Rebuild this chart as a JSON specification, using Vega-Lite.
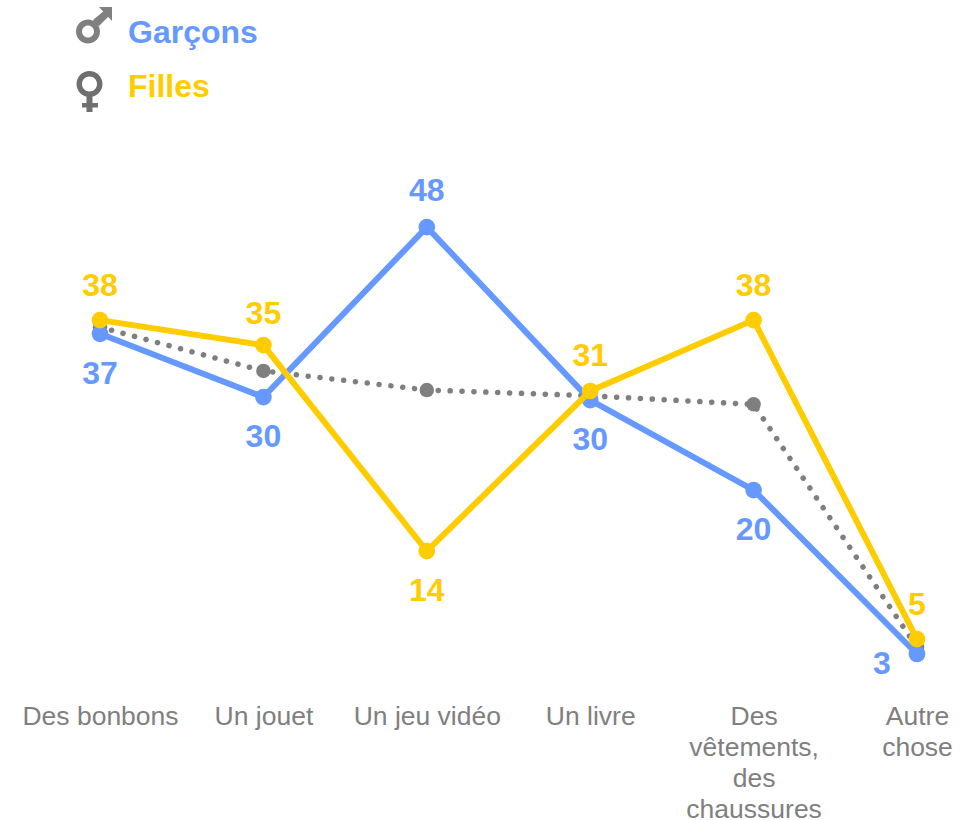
{
"$schema":"https://vega.github.io/schema/vega-lite/v6.json",
"width":978,"height":684.5,"autosize":"none","padding":{"left":0,"top":0,"right":0,"bottom":135.5},
"background":"white","config":{"view":{"stroke":null},"font":"Liberation Sans"},
"datasets":{
"series":[
{"cat":"Des bonbons","serie":"Garçons","value":36.8,"label":37},
{"cat":"Un jouet","serie":"Garçons","value":30.16,"label":30},
{"cat":"Un jeu vidéo","serie":"Garçons","value":48,"label":48},
{"cat":"Un livre","serie":"Garçons","value":29.85,"label":30},
{"cat":"Des vêtements, des chaussures","serie":"Garçons","value":20.4,"label":20},
{"cat":"Autre chose","serie":"Garçons","value":3.2,"label":3},
{"cat":"Des bonbons","serie":"Filles","value":38.24,"label":38},
{"cat":"Un jouet","serie":"Filles","value":35.62,"label":35},
{"cat":"Un jeu vidéo","serie":"Filles","value":14,"label":14},
{"cat":"Un livre","serie":"Filles","value":30.8,"label":31},
{"cat":"Des vêtements, des chaussures","serie":"Filles","value":38.24,"label":38},
{"cat":"Autre chose","serie":"Filles","value":4.77,"label":5}
],
"moyenne":[
{"cat":"Des bonbons","value":37.5},
{"cat":"Un jouet","value":32.9},
{"cat":"Un jeu vidéo","value":30.9},
{"cat":"Un livre","value":30.3},
{"cat":"Des vêtements, des chaussures","value":29.4},
{"cat":"Autre chose","value":3.9}
],
"legende":[
{"cat":"Des bonbons","serie":"Garçons","value":68.46},
{"cat":"Des bonbons","serie":"Filles","value":62.8}
]
},
"data":{"name":"series"},
"encoding":{
"x":{"field":"cat","type":"nominal","sort":null,"title":null,
"scale":{"type":"point","padding":0,"domain":["Des bonbons","Un jouet","Un jeu vidéo","Un livre","Des vêtements, des chaussures","Autre chose"],"range":[100,917]},
"axis":{"domain":false,"ticks":false,"grid":false,"labelAngle":0,"labelFontSize":26.5,"labelColor":"#7f7f7f","labelFont":"Liberation Sans","labelPadding":19,"labelLimit":0,"labelOverlap":false,"labelBound":false,"labelFlush":false,"labelLineHeight":31,"labelBaseline":"top",
"labelExpr":"datum.label=='Des vêtements, des chaussures'?['Des','vêtements,','des','chaussures']:datum.label=='Autre chose'?['Autre','chose']:datum.label"}},
"y":{"field":"value","type":"quantitative","title":null,"scale":{"domain":[0,71.83],"nice":false,"zero":false},"axis":null},
"color":{"field":"serie","type":"nominal","legend":null,"scale":{"domain":["Garçons","Filles"],"range":["#6699ff","#ffcc00"]}}
},
"layer":[
{"data":{"name":"moyenne"},"mark":{"type":"line","color":"#7f7f7f","strokeWidth":5.5,"strokeDash":[0.1,11.8],"strokeCap":"round"},"encoding":{"color":{"value":"#7f7f7f"}}},
{"data":{"name":"moyenne"},"mark":{"type":"point","filled":true,"size":210,"opacity":1,"color":"#7f7f7f"},"encoding":{"color":{"value":"#7f7f7f"}}},
{"transform":[{"filter":"datum.serie=='Garçons'"}],"mark":{"type":"line","strokeWidth":6}},
{"transform":[{"filter":"datum.serie=='Garçons'"}],"mark":{"type":"point","filled":true,"size":280,"opacity":1}},
{"transform":[{"filter":"datum.serie=='Filles'"}],"mark":{"type":"line","strokeWidth":6}},
{"transform":[{"filter":"datum.serie=='Filles'"}],"mark":{"type":"point","filled":true,"size":280,"opacity":1}},
{"transform":[{"filter":"datum.serie=='Filles'&&datum.cat!='Un jeu vidéo'&&datum.cat!='Un jouet'"}],
"mark":{"type":"text","fontSize":32,"fontWeight":"bold","font":"Liberation Sans","dy":-34.5,"baseline":"middle"},"encoding":{"text":{"field":"label","type":"quantitative"}}},
{"transform":[{"filter":"datum.serie=='Filles'&&datum.cat=='Un jouet'"}],
"mark":{"type":"text","fontSize":32,"fontWeight":"bold","font":"Liberation Sans","dy":-31,"baseline":"middle"},"encoding":{"text":{"field":"label","type":"quantitative"}}},
{"transform":[{"filter":"datum.serie=='Garçons'&&datum.cat=='Un jeu vidéo'"}],
"mark":{"type":"text","fontSize":32,"fontWeight":"bold","font":"Liberation Sans","dy":-36.5,"baseline":"middle"},"encoding":{"text":{"field":"label","type":"quantitative"}}},
{"transform":[{"filter":"(datum.serie=='Filles'&&datum.cat=='Un jeu vidéo')||(datum.serie=='Garçons'&&datum.cat!='Un jeu vidéo'&&datum.cat!='Autre chose')"}],
"mark":{"type":"text","fontSize":32,"fontWeight":"bold","font":"Liberation Sans","dy":39.7,"baseline":"middle"},"encoding":{"text":{"field":"label","type":"quantitative"}}},
{"transform":[{"filter":"datum.serie=='Garçons'&&datum.cat=='Autre chose'"}],
"mark":{"type":"text","fontSize":32,"fontWeight":"bold","font":"Liberation Sans","dy":10,"dx":-35,"baseline":"middle"},"encoding":{"text":{"field":"label","type":"quantitative"}}},
{"data":{"name":"legende"},"mark":{"type":"text","fontSize":32,"fontWeight":"bold","font":"Liberation Sans","align":"left","baseline":"middle","dx":28,"dy":0.5},"encoding":{"text":{"field":"serie","type":"nominal"}}},
{"data":{"name":"legende"},"transform":[{"filter":"datum.serie=='Garçons'"}],
"mark":{"type":"point","filled":true,"opacity":1,"size":4,"color":"#808080","shape":"M-24,-0.5A12,12 0 1 1 0,-0.5A12,12 0 1 1 -24,-0.5Z M-18,-0.5A6,6 0 1 0 -6,-0.5A6,6 0 1 0 -18,-0.5Z M-7,-12L5,-22L10,-17L-1,-6Z M-1,-25L12,-25L12,-11Z"},"encoding":{"color":{"value":"#808080"}}},
{"data":{"name":"legende"},"transform":[{"filter":"datum.serie=='Filles'"}],
"mark":{"type":"point","filled":true,"opacity":1,"size":4,"color":"#6f6f6f","shape":"M-23.5,-2A13,13 0 1 1 2.5,-2A13,13 0 1 1 -23.5,-2Z M-18,-2A7.5,7.5 0 1 0 -3,-2A7.5,7.5 0 1 0 -18,-2Z M-13.5,10L-7.5,10L-7.5,17L-2,17L-2,21.5L-7.5,21.5L-7.5,26L-13.5,26L-13.5,21.5L-18,21.5L-18,17L-13.5,17Z"},"encoding":{"color":{"value":"#6f6f6f"}}}
]
}
